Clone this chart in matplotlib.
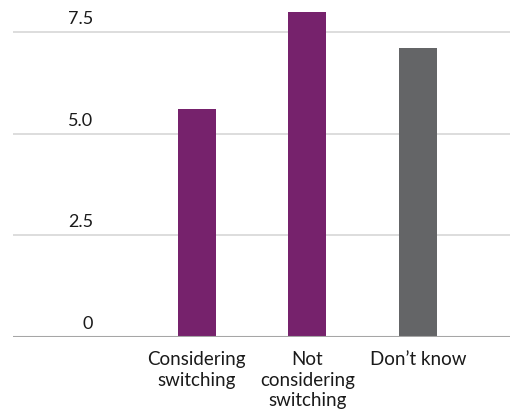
import matplotlib
matplotlib.use('Agg')
import matplotlib.pyplot as plt
from matplotlib.transforms import blended_transform_factory

categories = ["Considering\nswitching", "Not\nconsidering\nswitching", "Don\u2019t know"]
values = [5.6, 8.0, 7.1]
bar_colors = ["#76226c", "#76226c", "#646567"]
yticks = [0, 2.5, 5.0, 7.5]
ytick_labels = ["0", "2.5", "5.0", "7.5"]

TEXT = "#1a1a1a"
GRID = "#d3d3d3"
BASE = "#a6a6a6"

plt.rcParams['font.family'] = ['Lato', 'DejaVu Sans']

W, H = 511, 413
fig = plt.figure(figsize=(W / 100, H / 100), dpi=100)
left, right = 13 / W, 510 / W
bottom = (H - 336.7) / H
top = 1 - 3.8 / H
ax = fig.add_axes([left, bottom, right - left, top - bottom])

x = [1, 2, 3]
ax.bar(x, values, width=0.343, color=bar_colors, zorder=3)

ax.set_xlim(-0.66, 3.83)
ax.set_ylim(0, 8.2)

for s in ax.spines.values():
    s.set_visible(False)
for y in yticks[1:]:
    ax.axhline(y, color=GRID, lw=1.1, zorder=1)
ax.axhline(0, color=BASE, lw=1.5, zorder=4)

ax.set_xticks([])
ax.set_yticks([])

# value labels sit just above their gridline, right-aligned
tr = blended_transform_factory(ax.transAxes, ax.transData)
for y, lab in zip(yticks, ytick_labels):
    ax.annotate(lab, xy=(0.161, y), xycoords=tr, xytext=(0, 3.5),
                textcoords='offset points', ha='right', va='bottom',
                fontsize=13, color=TEXT)

for xi, lab in zip(x, categories):
    ax.annotate(lab, xy=(xi, 0), xycoords='data', xytext=(0, -10.5),
                textcoords='offset points', ha='center', va='top',
                fontsize=13.5, color=TEXT, linespacing=1.25,
                annotation_clip=False)

fig.savefig("out.png", dpi=100, facecolor="white")
